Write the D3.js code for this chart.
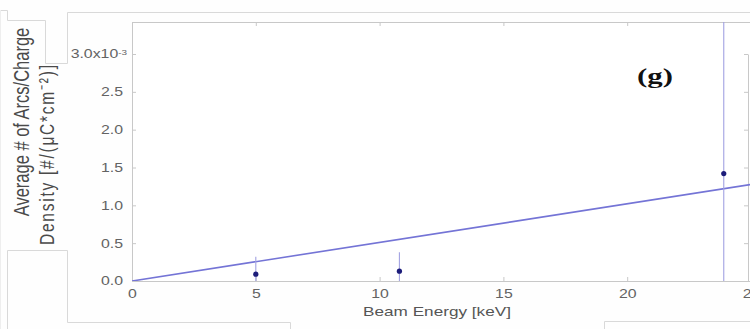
<!DOCTYPE html>
<html>
<head>
<meta charset="utf-8">
<script src="https://cdn.jsdelivr.net/npm/d3@7/dist/d3.min.js"></script>
<style>
  html, body { margin: 0; padding: 0; background: #fff; }
  svg { display: block; }
</style>
</head>
<body>
<svg id="chart" width="750" height="329"></svg>
<script>
// ---- data (y values in units of 1e-3 #/(uC*cm^-2)) ----
const beamEnergy = [5.0, 10.8, 23.9];
const arcDensity = [0.09, 0.13, 1.42];
const arcError   = [0.23, 0.25, 2.2];
const fitSlope   = 0.051;          // linear fit through origin
const fitRange   = [0, 25];
const xTicks     = [0, 5, 10, 15, 20, 25];
const yTicks     = [0, 0.5, 1.0, 1.5, 2.0, 2.5, 3.0];
const yTickLabels = ["0.0", "0.5", "1.0", "1.5", "2.0", "2.5", "3.0x10"];
const xTitle = "Beam Energy [keV]";
const yTitle1 = "Average # of Arcs/Charge";
const yTitle2 = "Density [#/(μC*cm⁻²)]";
const panelLabel = "(g)";

(function () {
const svg = d3.select("#chart");
const W = 750, H = 329;
const pL = 132, pR = 751, pT = 22, pB = 281;
const SX = 1.32; // horizontal stretch of the scanned figure's lettering

const x = d3.scaleLinear().domain([0, 25]).range([pL, pR]);
const y = d3.scaleLinear().domain([0, 3.0]).range([pB, 54]);

svg.append("rect").attr("width", W).attr("height", H).attr("fill", "#fefefe");

// ---- surrounding panel frame lines (scanned-figure artifacts) ----
const frame = svg.append("g").attr("fill", "none").attr("stroke", "#d9d9d9").attr("stroke-width", 1);
frame.append("path").attr("d", "M0,10.5H7.5V20.5H45.5V63.5H67.5V12.5H750");
frame.append("path").attr("d", "M7.5,329V250.5H67.5V322.5H290.5V329");
frame.append("path").attr("d", "M604.5,329V321.5H750");
frame.append("path").attr("d", "M0.5,10V329").attr("stroke", "#eeeeee");

// ---- plot area ----
svg.append("rect").attr("x", pL).attr("y", pT).attr("width", pR - pL).attr("height", pB - pT)
  .attr("fill", "#ffffff");

svg.append("defs").append("clipPath").attr("id", "clip")
  .append("rect").attr("x", pL).attr("y", pT).attr("width", pR - pL).attr("height", pB - pT);

// axes
const axisColor = "#c8c8c8";
const xAxisB = svg.append("g").attr("transform", `translate(0,${pB})`)
  .call(d3.axisBottom(x).tickValues(xTicks).tickSizeInner(-4).tickSizeOuter(0).tickPadding(8).tickFormat(d3.format("d")));
const xAxisT = svg.append("g").attr("transform", `translate(0,${pT})`)
  .call(d3.axisTop(x).tickValues(xTicks).tickSizeInner(-4).tickSizeOuter(0).tickFormat(""));
const yAxisL = svg.append("g").attr("transform", `translate(${pL},0)`)
  .call(d3.axisLeft(y).tickValues(yTicks).tickSizeInner(-4).tickSizeOuter(0).tickPadding(9)
    .tickFormat((d, i) => yTickLabels[i]));
const yAxisR = svg.append("g").attr("transform", `translate(${pR - 3},0)`)
  .call(d3.axisRight(y).tickValues(yTicks).tickSizeInner(-4).tickSizeOuter(0).tickFormat(""));

[xAxisB, xAxisT, yAxisL, yAxisR].forEach(g => {
  g.select(".domain").attr("stroke", axisColor);
  g.selectAll(".tick line").attr("stroke", axisColor);
  g.selectAll("text").attr("fill", "#636363").attr("font-family", "Liberation Sans, Arial, sans-serif")
    .attr("font-size", 12);
});
xAxisT.select(".domain").attr("d", `M${pL},0.5H${pR}`);
yAxisL.select(".domain").attr("d", `M0.5,${pT}V${pB}`);

// stretched lettering
xAxisB.selectAll(".tick text").attr("transform", `scale(${SX},1)`);
yAxisL.selectAll(".tick text").attr("x", 0).attr("transform", `translate(-9,0) scale(${SX},1)`);

// superscript on the top y label
yAxisL.selectAll(".tick text").filter((d, i) => i === yTicks.length - 1)
  .attr("transform", `translate(-5,0) scale(${SX},1)`)
  .append("tspan").attr("dy", "-0.5em").attr("font-size", 7.5).text("-3");

// ---- fit line ----
const plot = svg.append("g").attr("clip-path", "url(#clip)");
plot.append("line")
  .attr("x1", x(fitRange[0])).attr("y1", y(fitSlope * fitRange[0]))
  .attr("x2", x(fitRange[1])).attr("y2", y(fitSlope * fitRange[1]))
  .attr("stroke", "#7474d6").attr("stroke-width", 1.6);

// ---- error bars ----
plot.selectAll("line.err").data(beamEnergy).join("line").attr("class", "err")
  .attr("x1", d => x(d)).attr("x2", d => x(d))
  .attr("y1", (d, i) => y(arcDensity[i] + arcError[i]))
  .attr("y2", (d, i) => y(arcDensity[i] - arcError[i]))
  .attr("stroke", "#a2a2e2").attr("stroke-width", 1.1);

// ---- points ----
plot.selectAll("circle.pt").data(beamEnergy).join("circle").attr("class", "pt")
  .attr("cx", d => x(d)).attr("cy", (d, i) => y(arcDensity[i]))
  .attr("r", 2.6).attr("fill", "#1c1c7a");

// ---- titles ----
svg.append("text").attr("transform", `translate(437,316) scale(${SX},1)`).attr("text-anchor", "middle")
  .attr("font-family", "Liberation Sans, Arial, sans-serif").attr("font-size", 13).attr("fill", "#555")
  .text(xTitle);

svg.append("text").attr("transform", `translate(29,122) scale(${SX},1) rotate(-90)`).attr("text-anchor", "middle")
  .attr("font-family", "Liberation Sans, Arial, sans-serif").attr("font-size", 16.5).attr("fill", "#4a4a4a")
  .text(yTitle1);
svg.append("text").attr("transform", `translate(54,155) scale(${SX},1) rotate(-90)`).attr("text-anchor", "middle")
  .attr("font-family", "Liberation Sans, Arial, sans-serif").attr("font-size", 15.5).attr("fill", "#4a4a4a")
  .attr("textLength", 180).attr("lengthAdjust", "spacing")
  .text(yTitle2);

svg.append("text").attr("transform", `translate(655,83) scale(1.4,1)`).attr("text-anchor", "middle")
  .attr("font-family", "Liberation Serif, DejaVu Serif, serif").attr("font-weight", "bold")
  .attr("font-size", 22).attr("fill", "#111").text(panelLabel);
})();
</script>
</body>
</html>
